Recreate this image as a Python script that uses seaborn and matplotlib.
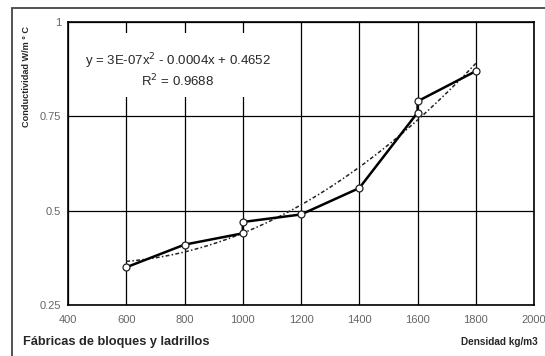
import numpy as np
import pandas as pd
import matplotlib
matplotlib.use('Agg')
import matplotlib.pyplot as plt
from matplotlib.patches import Rectangle
from matplotlib.ticker import MultipleLocator
import seaborn as sns

# data (order matters: line goes up at 1000 and 1600)
densidad = [600, 800, 1000, 1000, 1200, 1400, 1600, 1600, 1800]
conductividad = [0.35, 0.41, 0.44, 0.47, 0.49, 0.56, 0.76, 0.79, 0.87]
x_ticks = [400, 600, 800, 1000, 1200, 1400, 1600, 1800, 2000]
y_ticks = [0.25, 0.5, 0.75, 1]
y_tick_labels = ['0.25', '0.5', '0.75', '1']

df = pd.DataFrame({'densidad': densidad, 'conductividad': conductividad})

sns.set_style('white')
plt.rcParams['font.family'] = ['Liberation Sans', 'DejaVu Sans']

fig = plt.figure(figsize=(5.45, 3.56), dpi=100)
ax = fig.add_axes([0.1248, 0.1433, 0.8552, 0.7947])

# polynomial trend line (order 2), like the spreadsheet trendline
coef = np.polyfit(df['densidad'], df['conductividad'], 2)
xs = np.linspace(600, 1800, 100)
trend = pd.DataFrame({'x': xs, 'y': np.polyval(coef, xs)})
sns.lineplot(data=trend, x='x', y='y', ax=ax, color='#222222', lw=1.1,
             linestyle=(0, (2.5, 1.5, 1, 1.5)), zorder=3)

sns.lineplot(data=df, x='densidad', y='conductividad', ax=ax, sort=False,
             estimator=None, color='black', lw=1.8, marker='o', markersize=5,
             markerfacecolor='white', markeredgecolor='#222222',
             markeredgewidth=0.9, zorder=4)

ax.set_xlim(400, 2000)
ax.set_ylim(0.25, 1)
ax.set_xticks(x_ticks)
ax.set_yticks(y_ticks)
ax.set_yticklabels(y_tick_labels)
ax.xaxis.set_minor_locator(MultipleLocator(50))
ax.yaxis.set_minor_locator(MultipleLocator(0.05))
ax.tick_params(which='major', direction='out', length=3, width=1,
               color='black', labelsize=8, labelcolor='#666666', pad=2)
ax.tick_params(which='minor', direction='in', length=3, width=1, color='black')
ax.tick_params(axis='x', which='major', pad=4)
ax.set_xlabel('')
ax.set_ylabel('')

ax.grid(True, which='major', color='black', lw=0.9)
ax.set_axisbelow(True)
for s in ax.spines.values():
    s.set_color('black')
    s.set_linewidth(1.2)

# white box behind the trendline equation
ax.add_patch(Rectangle((0.036, 0.735), 0.401, 0.226, transform=ax.transAxes,
                       facecolor='white', edgecolor='none', zorder=1))
ax.text(0.236, 0.862, 'y = 3E-07x$^2$ - 0.0004x + 0.4652', transform=ax.transAxes,
        ha='center', va='center', fontsize=9.5, zorder=5)
ax.text(0.236, 0.792, 'R$^2$ = 0.9688', transform=ax.transAxes,
        ha='center', va='center', fontsize=9.5, zorder=5)

fig.text(0.0495, 0.784, 'Conductividad W/m ° C', rotation=90, ha='center',
         va='center', fontsize=6.6, fontweight='bold')
fig.text(0.042, 0.039, 'Fábricas de bloques y ladrillos', ha='left',
         va='center', fontsize=9.2, fontweight='bold')
fig.text(0.987, 0.039, 'Densidad kg/m3', ha='right', va='center',
         fontsize=7.2, fontweight='bold')

# outer frame (only left and top edges fall inside the picture)
fig.patches.append(Rectangle((12 / 545, -0.2), 1.2, 1.2 - 8 / 356,
                             transform=fig.transFigure, fill=False,
                             edgecolor='#444444', lw=1.3))

fig.savefig('out.png', dpi=100)
